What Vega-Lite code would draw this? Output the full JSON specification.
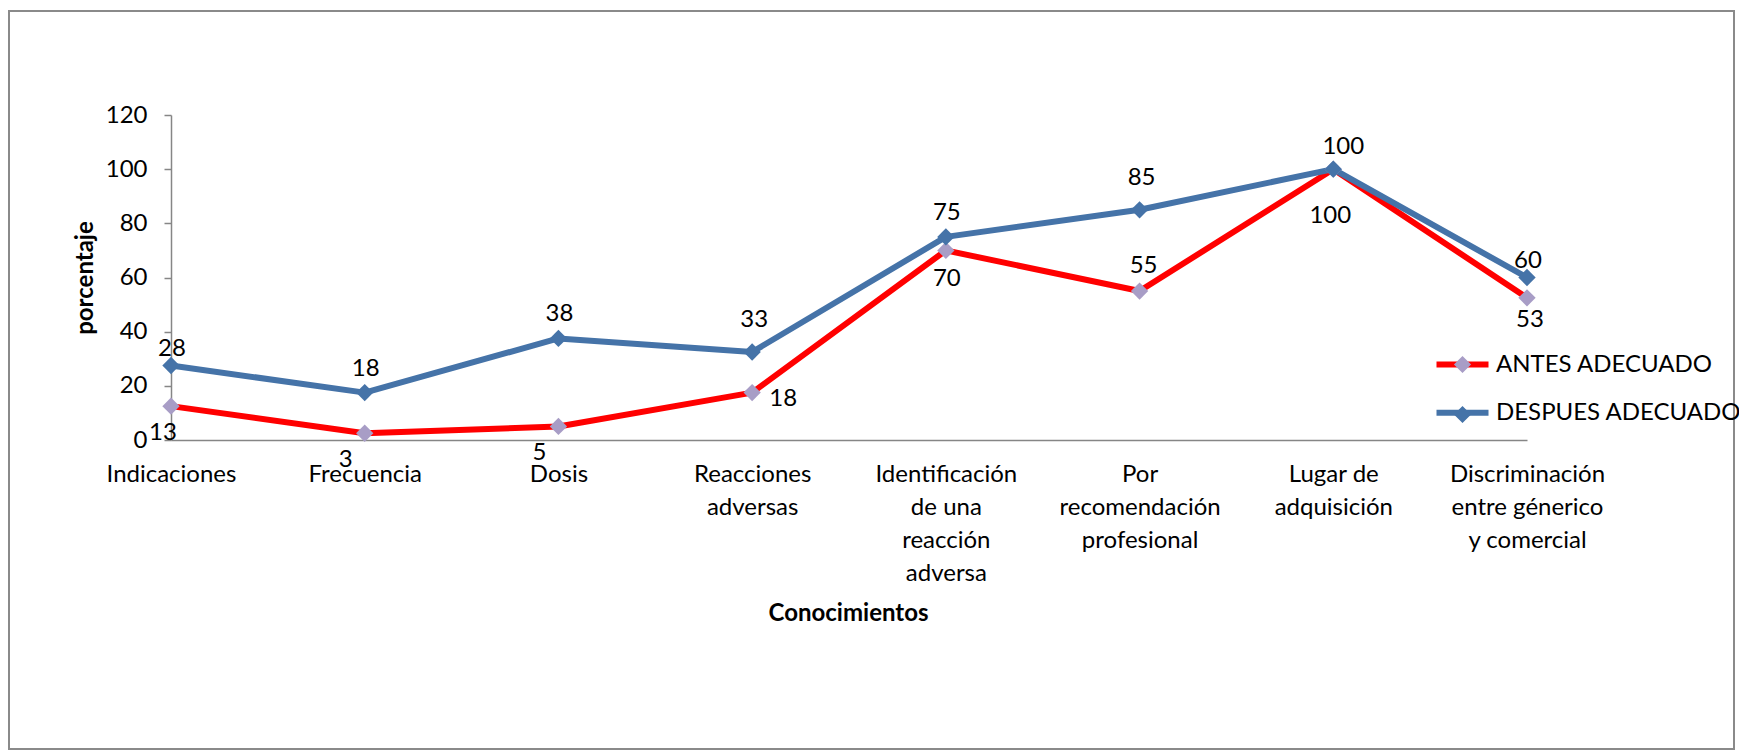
{
  "$schema": "https://vega.github.io/schema/vega-lite/v6.json",
  "width": 1725,
  "height": 738,
  "autosize": {"type": "none"},
  "padding": {"left": 9, "top": 11, "right": 5, "bottom": 6},
  "background": "white",
  "config": {
    "font": "Lato",
    "view": {"stroke": "#8a8a8a", "strokeWidth": 2},
    "axis": {"labelColor": "#000000", "titleColor": "#000000", "grid": false}
  },
  "data": {
    "values": [
      {"cat": "Indicaciones", "series": "ANTES ADECUADO", "pct": 12.5},
      {"cat": "Frecuencia", "series": "ANTES ADECUADO", "pct": 2.5},
      {"cat": "Dosis", "series": "ANTES ADECUADO", "pct": 5},
      {"cat": "Reacciones adversas", "series": "ANTES ADECUADO", "pct": 17.5},
      {"cat": "Identificación de una reacción adversa", "series": "ANTES ADECUADO", "pct": 70},
      {"cat": "Por recomendación profesional", "series": "ANTES ADECUADO", "pct": 55},
      {"cat": "Lugar de adquisición", "series": "ANTES ADECUADO", "pct": 100},
      {"cat": "Discriminación entre génerico y comercial", "series": "ANTES ADECUADO", "pct": 52.5},
      {"cat": "Indicaciones", "series": "DESPUES ADECUADO", "pct": 27.5},
      {"cat": "Frecuencia", "series": "DESPUES ADECUADO", "pct": 17.5},
      {"cat": "Dosis", "series": "DESPUES ADECUADO", "pct": 37.5},
      {"cat": "Reacciones adversas", "series": "DESPUES ADECUADO", "pct": 32.5},
      {"cat": "Identificación de una reacción adversa", "series": "DESPUES ADECUADO", "pct": 75},
      {"cat": "Por recomendación profesional", "series": "DESPUES ADECUADO", "pct": 85},
      {"cat": "Lugar de adquisición", "series": "DESPUES ADECUADO", "pct": 100},
      {"cat": "Discriminación entre génerico y comercial", "series": "DESPUES ADECUADO", "pct": 60}
    ]
  },
  "encoding": {
    "x": {
      "field": "cat",
      "type": "nominal",
      "scale": {
        "type": "point",
        "padding": 0,
        "domain": ["Indicaciones", "Frecuencia", "Dosis", "Reacciones adversas", "Identificación de una reacción adversa", "Por recomendación profesional", "Lugar de adquisición", "Discriminación entre génerico y comercial"],
        "range": [162, 1518]
      },
      "axis": {
        "orient": "bottom",
        "offset": -309,
        "ticks": false,
        "tickSize": 0,
        "domainColor": "#868686",
        "domainWidth": 1.5,
        "labelAngle": 0,
        "labelFontSize": 24,
        "labelLineHeight": 33,
        "labelBaseline": "top",
        "labelPadding": 22,
        "labelLimit": 400,
        "labelOverlap": false,
        "labelExpr": "datum.value == 'Reacciones adversas' ? ['Reacciones','adversas'] : datum.value == 'Identificación de una reacción adversa' ? ['Identificación','de una','reacción','adversa'] : datum.value == 'Por recomendación profesional' ? ['Por','recomendación','profesional'] : datum.value == 'Lugar de adquisición' ? ['Lugar de','adquisición'] : datum.value == 'Discriminación entre génerico y comercial' ? ['Discriminación','entre génerico','y comercial'] : datum.label",
        "title": "Conocimientos",
        "titleFontSize": 24,
        "titleFontWeight": "bold",
        "titleX": 839,
        "titleY": 173,
        "titleBaseline": "middle",
        "titleAlign": "center"
      }
    },
    "y": {
      "field": "pct",
      "type": "quantitative",
      "scale": {"domain": [0, 120], "range": [429, 104], "nice": false, "zero": true},
      "axis": {
        "orient": "left",
        "offset": -162,
        "values": [0, 20, 40, 60, 80, 100, 120],
        "tickSize": 7,
        "tickColor": "#868686",
        "tickWidth": 1.5,
        "domainColor": "#868686",
        "domainWidth": 1.5,
        "labelFontSize": 24,
        "labelPadding": 17,
        "title": "porcentaje",
        "titleFontSize": 24,
        "titleFontWeight": "bold",
        "titleAngle": -90,
        "titleX": -86,
        "titleY": 266.5,
        "titleBaseline": "middle",
        "titleAlign": "center"
      }
    }
  },
  "layer": [
    {
      "mark": {"type": "line", "strokeWidth": 6, "strokeJoin": "round"},
      "encoding": {
        "stroke": {
          "field": "series",
          "type": "nominal",
          "scale": {"range": ["#FF0000", "#4573A8"]},
          "legend": {
            "orient": "none",
            "legendX": 1424.5,
            "legendY": 324.5,
            "title": null,
            "padding": 0,
            "symbolType": "stroke",
            "symbolSize": 2704,
            "symbolStrokeWidth": 6,
            "labelFontSize": 24,
            "labelColor": "#000000",
            "labelOffset": 4.5,
            "labelLimit": 400,
            "rowPadding": 7.3
          }
        }
      }
    },
    {
      "mark": {"type": "point", "shape": "diamond", "filled": true, "size": 300, "opacity": 1},
      "encoding": {
        "fill": {
          "field": "series",
          "type": "nominal",
          "scale": {"domain": ["ANTES ADECUADO", "DESPUES ADECUADO"], "range": ["#A89DC6", "#4573A8"]},
          "legend": {
            "orient": "none",
            "legendX": 1424.5,
            "legendY": 324.5,
            "title": null,
            "padding": 0,
            "symbolType": "M-1,0L1,0M0,-0.33L0.33,0L0,0.33L-0.33,0Z",
            "symbolSize": 2704,
            "symbolStrokeWidth": 6,
            "symbolStrokeColor": "transparent",
            "labelFontSize": 24,
            "labelColor": "transparent",
            "labelOffset": 4.5,
            "labelLimit": 400,
            "rowPadding": -1.7
          }
        }
      }
    },
    {
      "transform": [{"filter": {"and": [{"field": "series", "equal": "DESPUES ADECUADO"}, {"field": "cat", "oneOf": ["Indicaciones", "Discriminación entre génerico y comercial"]}]}}],
      "mark": {"type": "text", "fontSize": 24, "color": "#000000", "align": "center", "baseline": "middle", "dx": 1, "dy": -17},
      "encoding": {"text": {"field": "pct", "type": "quantitative", "format": ".0f"}}
    },
    {
      "transform": [{"filter": {"and": [{"field": "series", "equal": "DESPUES ADECUADO"}, {"field": "cat", "oneOf": ["Frecuencia", "Dosis", "Identificación de una reacción adversa"]}]}}],
      "mark": {"type": "text", "fontSize": 24, "color": "#000000", "align": "center", "baseline": "middle", "dx": 1, "dy": -24},
      "encoding": {"text": {"field": "pct", "type": "quantitative", "format": ".0f"}}
    },
    {
      "transform": [{"filter": {"and": [{"field": "series", "equal": "DESPUES ADECUADO"}, {"field": "cat", "oneOf": ["Lugar de adquisición"]}]}}],
      "mark": {"type": "text", "fontSize": 24, "color": "#000000", "align": "center", "baseline": "middle", "dx": 10, "dy": -22},
      "encoding": {"text": {"field": "pct", "type": "quantitative", "format": ".0f"}}
    },
    {
      "transform": [{"filter": {"and": [{"field": "series", "equal": "DESPUES ADECUADO"}, {"field": "cat", "oneOf": ["Reacciones adversas", "Por recomendación profesional"]}]}}],
      "mark": {"type": "text", "fontSize": 24, "color": "#000000", "align": "center", "baseline": "middle", "dx": 2, "dy": -32},
      "encoding": {"text": {"field": "pct", "type": "quantitative", "format": ".0f"}}
    },
    {
      "transform": [{"filter": {"and": [{"field": "series", "equal": "ANTES ADECUADO"}, {"field": "cat", "oneOf": ["Frecuencia", "Dosis"]}]}}],
      "mark": {"type": "text", "fontSize": 24, "color": "#000000", "align": "center", "baseline": "middle", "dx": -19, "dy": 27},
      "encoding": {"text": {"field": "pct", "type": "quantitative", "format": ".0f"}}
    },
    {
      "transform": [{"filter": {"and": [{"field": "series", "equal": "ANTES ADECUADO"}, {"field": "cat", "oneOf": ["Indicaciones"]}]}}],
      "mark": {"type": "text", "fontSize": 24, "color": "#000000", "align": "center", "baseline": "middle", "dx": -8, "dy": 27},
      "encoding": {"text": {"field": "pct", "type": "quantitative", "format": ".0f"}}
    },
    {
      "transform": [{"filter": {"and": [{"field": "series", "equal": "ANTES ADECUADO"}, {"field": "cat", "oneOf": ["Identificación de una reacción adversa"]}]}}],
      "mark": {"type": "text", "fontSize": 24, "color": "#000000", "align": "center", "baseline": "middle", "dx": 1, "dy": 29},
      "encoding": {"text": {"field": "pct", "type": "quantitative", "format": ".0f"}}
    },
    {
      "transform": [{"filter": {"and": [{"field": "series", "equal": "ANTES ADECUADO"}, {"field": "cat", "oneOf": ["Discriminación entre génerico y comercial"]}]}}],
      "mark": {"type": "text", "fontSize": 24, "color": "#000000", "align": "center", "baseline": "middle", "dx": 3, "dy": 22},
      "encoding": {"text": {"field": "pct", "type": "quantitative", "format": ".0f"}}
    },
    {
      "transform": [{"filter": {"and": [{"field": "series", "equal": "ANTES ADECUADO"}, {"field": "cat", "oneOf": ["Lugar de adquisición"]}]}}],
      "mark": {"type": "text", "fontSize": 24, "color": "#000000", "align": "center", "baseline": "middle", "dx": -3, "dy": 47},
      "encoding": {"text": {"field": "pct", "type": "quantitative", "format": ".0f"}}
    },
    {
      "transform": [{"filter": {"and": [{"field": "series", "equal": "ANTES ADECUADO"}, {"field": "cat", "oneOf": ["Reacciones adversas"]}]}}],
      "mark": {"type": "text", "fontSize": 24, "color": "#000000", "align": "center", "baseline": "middle", "dx": 31, "dy": 6},
      "encoding": {"text": {"field": "pct", "type": "quantitative", "format": ".0f"}}
    },
    {
      "transform": [{"filter": {"and": [{"field": "series", "equal": "ANTES ADECUADO"}, {"field": "cat", "oneOf": ["Por recomendación profesional"]}]}}],
      "mark": {"type": "text", "fontSize": 24, "color": "#000000", "align": "center", "baseline": "middle", "dx": 4, "dy": -25},
      "encoding": {"text": {"field": "pct", "type": "quantitative", "format": ".0f"}}
    }
  ]
}
